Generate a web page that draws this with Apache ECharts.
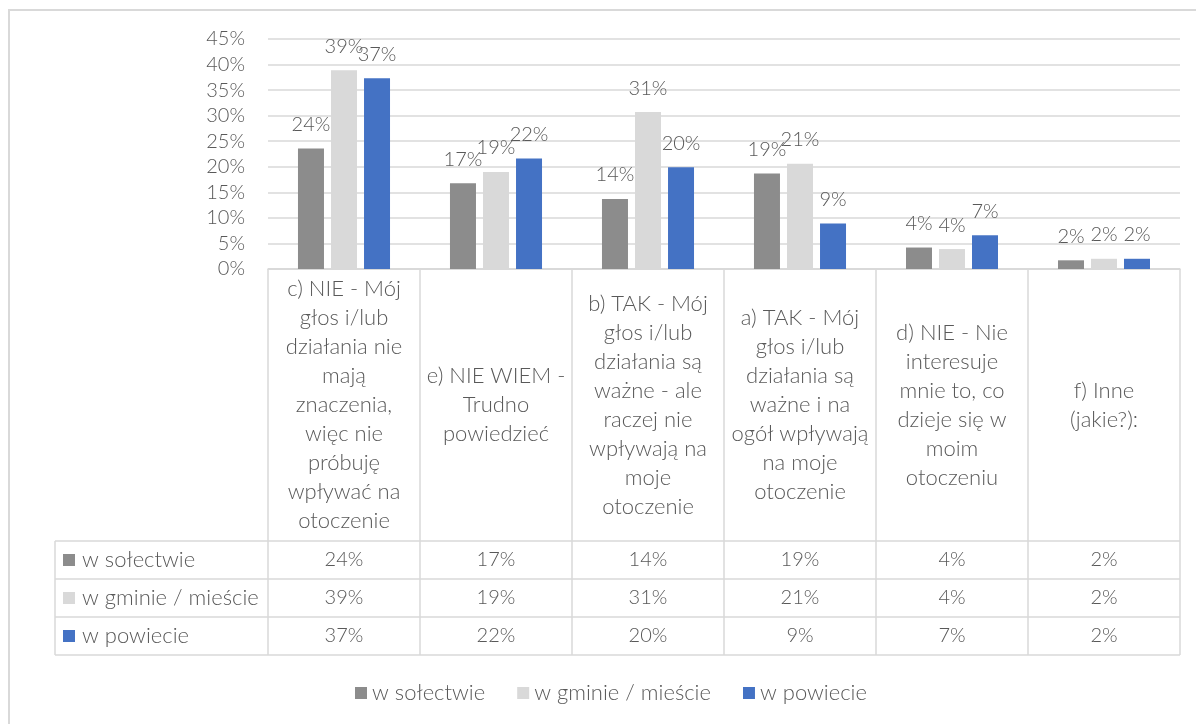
<!DOCTYPE html>
<html>
<head>
<meta charset="utf-8">
<script src="https://cdn.jsdelivr.net/npm/echarts@6/dist/echarts.min.js"></script>
<style>
html,body{margin:0;padding:0;background:#fff;}
#chart{width:1196px;height:724px;}
</style>
</head>
<body>
<div id="chart"></div>
<script>
// ---- data ----
const categories = [
  'c) NIE - Mój\ngłos i/lub\ndziałania nie\nmają\nznaczenia,\nwięc nie\npróbuję\nwpływać na\notoczenie',
  'e) NIE WIEM -\nTrudno\npowiedzieć',
  'b) TAK - Mój\ngłos i/lub\ndziałania są\nważne - ale\nraczej nie\nwpływają na\nmoje\notoczenie',
  'a) TAK - Mój\ngłos i/lub\ndziałania są\nważne i na\nogół wpływają\nna moje\notoczenie',
  'd) NIE - Nie\ninteresuje\nmnie to, co\ndzieje się w\nmoim\notoczeniu',
  'f) Inne\n(jakie?):'
];
const seriesNames = ['w sołectwie', 'w gminie / mieście', 'w powiecie'];
const wSolectwie = [23.6, 16.8, 13.7, 18.7, 4.2, 1.7];
const wGminie = [38.9, 19.0, 30.7, 20.6, 3.9, 2.0];
const wPowiecie = [37.3, 21.6, 19.9, 8.9, 6.6, 2.0];
const yTicks = [0, 5, 10, 15, 20, 25, 30, 35, 40, 45];

// ---- styles ----
const colors = ['#8c8c8c', '#d9d9d9', '#4472c4'];
const FONT = 'Lato';
const TXT = '#595959';
const LINE = '#d9d9d9';
const FS = 20;     // numbers
const FT = 22;     // words
const FW = 300;

const seriesData = [wSolectwie, wGminie, wPowiecie];
const pct = v => Math.round(v) + '%';

// table layout
const L = 268, R = 1180, TOP = 269, HDR = 541, ROWH = 38, TL = 55;
const colW = (R - L) / categories.length;

const graphics = [];
graphics.push({type: 'rect', shape: {x: 9, y: 10, width: 1400, height: 1000},
  style: {fill: 'none', stroke: LINE, lineWidth: 2}, silent: true});
graphics.push({type: 'line', shape: {x1: L, y1: TOP, x2: R, y2: TOP}, style: {stroke: LINE, lineWidth: 1.5}});
for (let r = 0; r <= seriesNames.length; r++) {
  const y = HDR + r * ROWH;
  graphics.push({type: 'line', shape: {x1: TL, y1: y, x2: R, y2: y}, style: {stroke: LINE, lineWidth: 1.5}});
}
for (let i = 0; i <= categories.length; i++) {
  const x = L + i * colW;
  graphics.push({type: 'line', shape: {x1: x, y1: TOP, x2: x, y2: HDR + seriesNames.length * ROWH}, style: {stroke: LINE, lineWidth: 1.5}});
}
graphics.push({type: 'line', shape: {x1: TL, y1: HDR, x2: TL, y2: HDR + seriesNames.length * ROWH}, style: {stroke: LINE, lineWidth: 1.5}});
seriesNames.forEach((name, r) => {
  const cy = HDR + r * ROWH + ROWH / 2;
  graphics.push({type: 'rect', shape: {x: 63, y: cy - 6, width: 12, height: 12}, style: {fill: colors[r]}});
  graphics.push({type: 'text', x: 82, y: cy, style: {text: name, font: FW + ' ' + FT + 'px ' + FONT, fill: TXT, verticalAlign: 'middle', textVerticalAlign: 'middle'}});
  seriesData[r].forEach((v, i) => {
    graphics.push({type: 'text', x: L + (i + 0.5) * colW, y: cy,
      style: {text: pct(v), font: FW + ' ' + FS + 'px ' + FONT, fill: TXT, align: 'center', textAlign: 'center', verticalAlign: 'middle', textVerticalAlign: 'middle'}});
  });
});

const chart = echarts.init(document.getElementById('chart'));
chart.setOption({
  backgroundColor: '#ffffff',
  animation: false,
  textStyle: {fontFamily: FONT, fontWeight: FW},
  grid: {left: L, right: 1196 - R, top: 39, bottom: 724 - TOP, containLabel: false},
  legend: {
    data: seriesNames,
    left: 350, top: 677,
    itemWidth: 12, itemHeight: 12, itemGap: 32,
    icon: 'rect',
    textStyle: {color: TXT, fontSize: FT, fontFamily: FONT, fontWeight: FW}
  },
  xAxis: {
    type: 'category',
    data: categories,
    axisLine: {show: true, lineStyle: {color: LINE, width: 1.5}},
    axisTick: {show: false},
    axisLabel: {
      interval: 0, color: TXT, fontSize: FT, fontFamily: FONT, fontWeight: FW,
      lineHeight: 29, verticalAlign: 'middle', align: 'center', margin: 136
    }
  },
  yAxis: {
    type: 'value', min: 0, max: 45, interval: 5,
    axisLine: {show: false}, axisTick: {show: false},
    splitLine: {lineStyle: {color: LINE, width: 1.5}},
    axisLabel: {color: TXT, fontSize: FS, fontFamily: FONT, fontWeight: FW, margin: 23,
      formatter: v => (yTicks.indexOf(v) >= 0 ? v + '%' : '')}
  },
  series: seriesNames.map((name, k) => ({
    name: name,
    type: 'bar',
    data: seriesData[k],
    barWidth: 26,
    barGap: '27%',
    itemStyle: {color: colors[k]},
    label: {show: true, position: 'top', distance: 14, color: TXT, fontSize: FS, fontFamily: FONT, fontWeight: FW,
      formatter: p => pct(p.value)}
  })),
  graphic: graphics
});
</script>
</body>
</html>
